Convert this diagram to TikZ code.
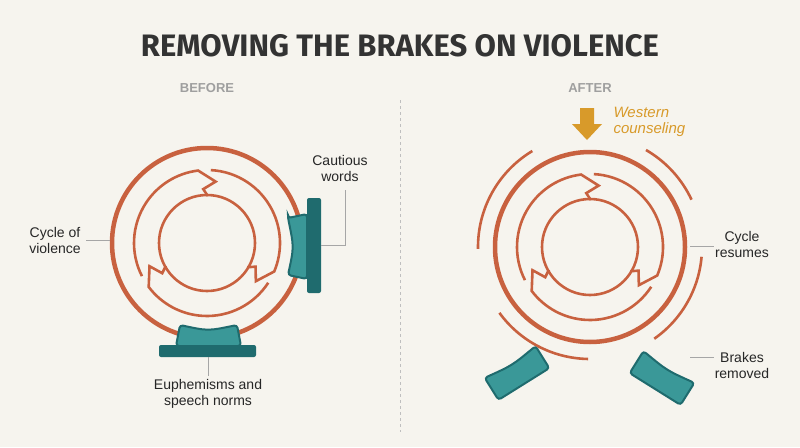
\documentclass[tikz,border=0pt]{standalone}
\usepackage{fontspec}
\setmainfont{Liberation Sans}
\newfontfamily\titlefont{Fira Sans}
\begin{document}
\begin{tikzpicture}[x=1pt,y=-1pt,
 ring/.style={draw=ringc,line width=4.5pt},
 thin/.style={draw=ringc,line width=2.6pt},
 pad/.style={fill=padc,draw=padd,line width=2pt,rounded corners=3pt},
 bar/.style={fill=padd,rounded corners=2pt},
 lbl/.style={font=\fontsize{14}{16}\selectfont,text=black!85,align=center},
 lead/.style={draw=gray!70,line width=0.8pt}]
\definecolor{bg}{HTML}{F6F4EE}\definecolor{ringc}{HTML}{C8613F}
\definecolor{padc}{HTML}{3A9898}\definecolor{padd}{HTML}{1F6B6E}
\definecolor{gold}{HTML}{D89A2A}
\fill[bg] (0,0) rectangle (800,447);
\useasboundingbox (0,0) rectangle (800,447);
\node[font=\titlefont\bfseries\fontsize{31}{34}\selectfont,text=black!80] (title) at (400,46) {REMOVING THE BRAKES ON VIOLENCE};
\node[font=\bfseries\fontsize{13}{15}\selectfont,text=gray!75] (before) at (207,88) {BEFORE};
\node[font=\bfseries\fontsize{13}{15}\selectfont,text=gray!75] (after) at (590,88) {AFTER};
\draw[gray!50,dashed,line width=0.8pt] (400,100) -- (400,432);
\newcommand{\cyc}{%
 \draw[ring] (0,0) circle[radius=95];
 \draw[thin] (0,0) circle[radius=48];
 \foreach \g in {95,215,335}{
  \draw[thin,line join=miter] ({\g-8}:73) arc[start angle={\g-8},end angle={\g-118},radius=73]
    -- ({\g-133}:62) -- ({\g-121}:54) -- ({\g-126}:47);}}
% BEFORE
\begin{scope}[shift={(207,243)},yscale=-1]\cyc\end{scope}
\fill[bar] (307,198) rectangle (321,293);
\draw[pad] (288,218) -- (307,214) -- (307,279) -- (288,275) .. controls (294,247) .. cycle;
\fill[bar] (159,345) rectangle (256,357);
\draw[pad] (176,346) -- (180,325) .. controls (208,331) .. (237,325) -- (241,346) -- cycle;
\node[lbl] (cw) at (340,168) {Cautious\\words};
\draw[lead] (321,245) -- (345,245) -- (345,190);
\node[lbl] (cv) at (55,240) {Cycle of\\violence};
\draw[lead] (86,240) -- (110,240);
\node[lbl] (eu) at (208,394) {Euphemisms and\\speech norms};
\draw[lead] (208,357) -- (208,376);
% AFTER
\begin{scope}[shift={(590,247)},yscale=-1]\cyc
 \foreach \a/\b in {121/181,25/60,-55/-5,216/269}
  \draw[thin] (\a:112) arc[start angle=\a,end angle=\b,radius=112];
\end{scope}
\fill[gold] (580,108) rectangle (594,124) (572,124) -- (602,124) -- (587,140) -- cycle;
\node[font=\itshape\fontsize{15}{16}\selectfont,text=gold,align=left,anchor=west] (wc) at (610,122) {Western\\counseling};
\begin{scope}[shift={(517,373)},rotate=32]
 \draw[pad] (-30,-13) .. controls (0,-9) .. (30,-13) -- (30,13) -- (-30,13) -- cycle;
\end{scope}
\begin{scope}[shift={(662,378)},rotate=-32]
 \draw[pad] (-30,-13) .. controls (0,-9) .. (30,-13) -- (30,13) -- (-30,13) -- cycle;
\end{scope}
\node[lbl] (cr) at (742,244) {Cycle\\resumes};
\draw[lead] (690,246) -- (714,246);
\node[lbl] (br) at (742,365) {Brakes\\removed};
\draw[lead] (690,357) -- (714,357);
\end{tikzpicture}
\end{document}
